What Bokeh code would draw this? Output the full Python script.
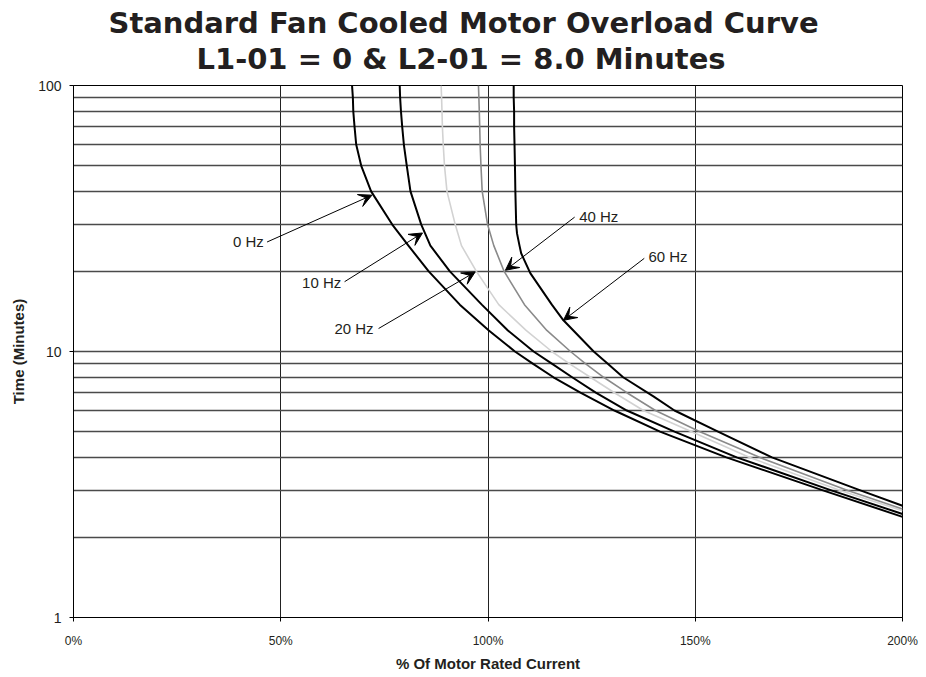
from bokeh.plotting import figure
from bokeh.models import FixedTicker, Title, Arrow, VeeHead, ColumnDataSource, Range1d
from bokeh.core.properties import value
from bokeh.embed import file_html
from bokeh.resources import INLINE

# ---------------- data ----------------
title_line1 = "Standard Fan Cooled Motor Overload Curve"
title_line2 = "L1-01 = 0 & L2-01 = 8.0 Minutes"
x_label = "% Of Motor Rated Current"
y_label = "Time (Minutes)"

x_ticks = [0, 50, 100, 150, 200]
x_tick_labels = ["0%", "50%", "100%", "150%", "200%"]
y_ticks = [1, 10, 100]
y_tick_labels = ["1", "10", "100"]
y_minor = [2, 3, 4, 5, 6, 7, 8, 9, 20, 30, 40, 50, 60, 70, 80, 90]

# % of motor rated current vs. time (minutes)
hz0_current = [67.2, 67.4, 67.5, 67.8, 68.2, 69.4, 71.8, 76.9, 80.8, 85.7, 93.2, 100.2, 106.5, 110.8, 115.8, 122.3, 130.5, 141.5, 157.5, 181.0, 200.0]
hz0_time = [100, 90, 80, 70, 60, 50, 40, 30, 25, 20, 15, 12, 10, 9, 8, 7, 6, 5, 4, 3, 2.39]

hz10_current = [78.7, 78.8, 79.0, 79.3, 79.7, 80.4, 81.3, 83.9, 86.1, 90.8, 98.5, 104.8, 111.0, 115.4, 120.3, 126.0, 133.5, 145.0, 160.0, 183.0, 200.0]
hz10_time = [100, 90, 80, 70, 60, 50, 40, 30, 25, 20, 15, 12, 10, 9, 8, 7, 6, 5, 4, 3, 2.45]

hz20_current = [88.7, 88.8, 88.9, 89.0, 89.2, 89.5, 90.1, 92.1, 93.6, 97.2, 102.6, 109.2, 115.4, 119.6, 124.7, 130.5, 137.5, 149.0, 163.0, 185.0, 200.0]
hz20_time = [100, 90, 80, 70, 60, 50, 40, 30, 25, 20, 15, 12, 10, 9, 8, 7, 6, 5, 4, 3, 2.52]

hz40_current = [97.7, 97.8, 97.9, 98.0, 98.1, 98.3, 98.6, 99.9, 101.4, 103.9, 108.8, 114.2, 119.9, 123.5, 127.9, 133.5, 140.4, 151.0, 165.5, 186.8, 200.0]
hz40_time = [100, 90, 80, 70, 60, 50, 40, 30, 25, 20, 15, 12, 10, 9, 8, 7, 6, 5, 4, 3, 2.56]

hz60_current = [106.2, 106.2, 106.3, 106.3, 106.4, 106.5, 106.6, 106.8, 107.0, 107.6, 108.0, 110.2, 115.4, 118.2, 125.5, 128.9, 132.6, 140.0, 145.0, 155.5, 168.5, 190.0, 200.0]
hz60_time = [100, 90, 80, 70, 60, 50, 40, 30, 27.8, 25, 23.4, 19.7, 15, 13.1, 10, 9, 8, 6.77, 6, 5, 4, 3, 2.63]

# annotation anchors (current %, minutes)
label_left_text = ["0 Hz", "10 Hz", "20 Hz"]
label_left_x = [45.9, 64.6, 72.4]
label_left_y = [26.0, 18.2, 12.2]
label_right_text = ["40 Hz", "60 Hz"]
label_right_x = [122.0, 138.7]
label_right_y = [32.2, 22.7]
arrow_x_start = [46.7, 65.4, 73.6, 120.9, 137.7]
arrow_y_start = [25.8, 18.3, 12.2, 32.0, 22.4]
arrow_x_end = [72.0, 84.2, 96.9, 104.2, 118.2]
arrow_y_end = [38.7, 27.9, 19.9, 20.2, 13.1]

# ---------------- figure ----------------
FONT = "Liberation Sans"
TFONT = "DejaVu Sans"

p = figure(width=920, height=674, x_range=Range1d(0, 200), y_range=Range1d(1, 100),
           y_axis_type="log", output_backend="svg", toolbar_location=None, title=None,
           min_border_left=73, min_border_right=18, min_border_top=85, min_border_bottom=56,
           background_fill_color="white", border_fill_color="white")

# titles: stacked outward from the frame (spacer, line 2, line 1)
spacer = Title(text=" ", text_font_size="1px", standoff=6.5)
t2 = Title(text=title_line2, align="left", offset=123, text_font=TFONT,
           text_font_size="29px", text_font_style="bold", text_color="#231f20", standoff=0)
t1 = Title(text=title_line1, align="left", offset=35, text_font=TFONT,
           text_font_size="29px", text_font_style="bold", text_color="#231f20", standoff=0)
p.add_layout(spacer, "above")
p.add_layout(t2, "above")
p.add_layout(t1, "above")

# axes
p.xaxis.ticker = FixedTicker(ticks=x_ticks)
p.xaxis.major_label_overrides = {t: l for t, l in zip(x_ticks, x_tick_labels)}
p.yaxis.ticker = FixedTicker(ticks=y_ticks, minor_ticks=y_minor)
p.yaxis.major_label_overrides = {t: l for t, l in zip(y_ticks, y_tick_labels)}

for ax in (p.xaxis[0], p.yaxis[0]):
    ax.axis_line_color = "black"
    ax.major_tick_line_color = "black"
    ax.major_tick_in = 0
    ax.major_tick_out = 4
    ax.minor_tick_line_color = None
    ax.major_label_text_font = FONT
    ax.major_label_text_color = "#231f20"
    ax.axis_label_text_font = FONT
    ax.axis_label_text_font_style = "bold"
    ax.axis_label_text_font_size = "15px"
    ax.axis_label_text_color = "#231f20"

p.xaxis.axis_label = x_label
p.xaxis.major_label_text_font_size = "12px"
p.xaxis.major_label_standoff = 12
p.xaxis.axis_label_standoff = 4
p.yaxis.axis_label = y_label
p.yaxis.major_label_text_font_size = "14px"
p.yaxis.major_label_standoff = 8
p.yaxis.axis_label_standoff = 8

# grids
p.xgrid.ticker = FixedTicker(ticks=x_ticks)
p.xgrid.grid_line_color = "#222222"
p.xgrid.grid_line_width = 1
p.ygrid.ticker = FixedTicker(ticks=y_ticks, minor_ticks=y_minor)
p.ygrid.grid_line_color = "#4a4a4a"
p.ygrid.grid_line_width = 1.5
p.ygrid.minor_grid_line_color = "#4a4a4a"
p.ygrid.minor_grid_line_width = 1.5
p.outline_line_color = "black"
p.outline_line_width = 1

# curves
curves = [
    (hz0_current, hz0_time, "black", 2.0),
    (hz10_current, hz10_time, "black", 2.0),
    (hz20_current, hz20_time, "#d2d2d2", 1.6),
    (hz40_current, hz40_time, "#8a8a8a", 1.6),
    (hz60_current, hz60_time, "black", 2.0),
]
for cx, cy, col, w in curves:
    p.line(cx, cy, line_color=col, line_width=w, line_join="round")

# annotations
for xs, ys, xe, ye in zip(arrow_x_start, arrow_y_start, arrow_x_end, arrow_y_end):
    p.add_layout(Arrow(end=VeeHead(size=13, fill_color="black", line_color="black", line_width=1),
                       x_start=xs, y_start=ys, x_end=xe, y_end=ye,
                       line_color="black", line_width=1))

src_l = ColumnDataSource(dict(x=label_left_x, y=label_left_y, t=label_left_text))
p.text(x="x", y="y", text="t", source=src_l, text_align="right", text_baseline="middle",
       text_font=value(FONT), text_font_size="15px", text_color="#231f20")
src_r = ColumnDataSource(dict(x=label_right_x, y=label_right_y, t=label_right_text))
p.text(x="x", y="y", text="t", source=src_r, text_align="left", text_baseline="middle",
       text_font=value(FONT), text_font_size="15px", text_color="#231f20")

open("out.html", "w").write(file_html(p, INLINE))
